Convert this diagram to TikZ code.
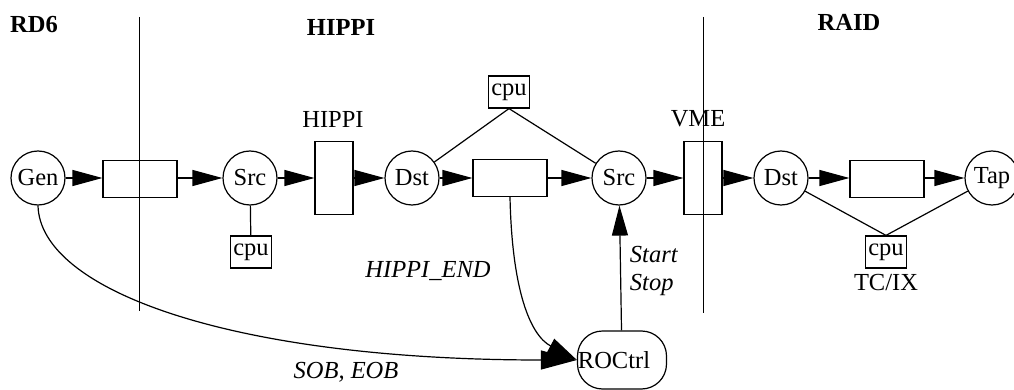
\documentclass[tikz,border=0pt]{standalone}
\usepackage{fontspec}
\setmainfont{Liberation Serif}
\usetikzlibrary{arrows.meta}
\begin{document}
\begin{tikzpicture}[x=1pt,y=-1pt,
  every node/.style={font=\fontsize{24.5}{28}\selectfont},
  line width=1.2pt,
  proc/.style={draw,circle,minimum size=54pt,inner sep=0pt},
  buf/.style={draw,minimum width=74pt,minimum height=37pt,inner sep=0pt},
  iface/.style={draw,minimum width=38pt,minimum height=73pt,inner sep=0pt},
  cpubox/.style={draw,minimum width=41pt,minimum height=32pt,inner sep=0pt},
  ctrl/.style={draw,rounded corners=25pt,minimum width=89pt,minimum height=58pt,inner sep=0pt},
  flow/.style={-{Triangle[length=30pt,width=16pt]}},
  bigflow/.style={-{Triangle[length=36pt,width=19pt]}},
  title/.style={font=\fontsize{24.5}{28}\selectfont\bfseries},
  sig/.style={font=\fontsize{24.5}{28}\selectfont\itshape},
]
\useasboundingbox (0,0) rectangle (1014,390);

% domain dividers
\coordinate (d1a) at (139,17);
\coordinate (d1b) at (139,311);
\coordinate (d2a) at (703,17);
\coordinate (d2b) at (703,313);
\draw[line width=1pt] (d1a) -- (d1b);
\draw[line width=1pt] (d2a) -- (d2b);

% domain titles
\node[title] (tRD) at (34,25) {RD6};
\node[title] (tHI) at (341,27) {HIPPI};
\node[title] (tRA) at (849,22) {RAID};

% data path
\node[proc] (gen) at (38,178) {Gen};
\node[buf] (box1) at (140,179) {};
\node[proc] (src1) at (250,178) {Src};
\node[iface] (hippi) at (334,178) {};
\node[proc] (dst1) at (412,178) {Dst};
\node[buf] (box2) at (510,178) {};
\node[proc] (src2) at (619,178) {Src};
\node[iface] (vme) at (703,178) {};
\node[proc] (dst2) at (781,178) {Dst};
\node[buf] (box3) at (887,179) {};
\node[proc] (tap) at (992,178) {Tap};

% processors
\node[cpubox] (cpu1) at (251,252) {cpu};
\node[cpubox] (cpu2) at (509,92) {cpu};
\node[cpubox] (cpu3) at (886,252) {cpu};

% run control
\node[ctrl] (roc) at (622,360) {};
\node (roctext) at (614,360) {ROCtrl};

% interface labels
\node (lhippi) at (333,119) {HIPPI};
\node (lvme) at (698,119) {VME};
\node (ltcix) at (886,283) {TC/IX};

% signal labels
\node[sig] (lend) at (428,271) {HIPPI\_END};
\node[sig] (lsob) at (346,372) {SOB, EOB};
\node[sig,align=left,anchor=west] (lss) at (626,271) {Start\\Stop};

% data flow
\draw[flow] (gen) -- (box1.west |- gen);
\draw[flow] (box1.east |- src1) -- (src1);
\draw[flow] (src1) -- (hippi);
\draw[flow] (hippi) -- (dst1);
\draw[flow] (dst1) -- (box2);
\draw[flow] (box2) -- (src2);
\draw[flow] (src2) -- (vme);
\draw[flow] (vme) -- (dst2);
\draw[flow] (dst2) -- (box3.west |- dst2);
\draw[flow] (box3.east |- tap) -- (tap);

% processor attachments
\draw (src1) -- (cpu1);
\draw (dst1) -- (cpu2.south) -- (src2);
\draw (dst2) -- (cpu3.north) -- (tap);

% control signals
\draw[flow] (roc) -- (src2);
\draw[bigflow] (gen.south) .. controls (40,290) and (230,360) .. (roc.west);
\draw[flow] (box2.south) .. controls (512,290) and (530,335) .. (roc.west);
\end{tikzpicture}
\end{document}
